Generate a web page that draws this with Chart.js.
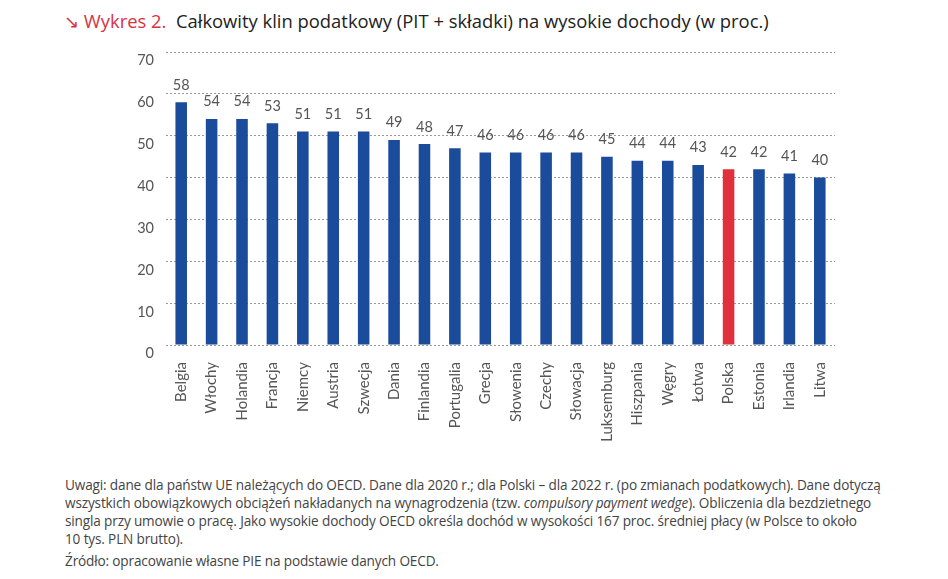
<!DOCTYPE html>
<html>
<head>
<meta charset="utf-8">
<script src="https://cdn.jsdelivr.net/npm/chart.js@4"></script>
<style>
  body { margin: 0; background: #fff; width: 948px; height: 579px; overflow: hidden; position: relative; font-family: "Open Sans", sans-serif; }
  #title { position: absolute; left: 64px; top: 8px; font-size: 18.4px; color: #222; white-space: nowrap; }
  #title .red { color: #d8323f; }
  #wrap { position: absolute; left: 0; top: 0; width: 948px; height: 460px; }
  #notes { position: absolute; left: 65px; top: 476px; font-family: "Open Sans", sans-serif; font-size: 13.6px; letter-spacing: -0.15px; line-height: 18px; color: #444; white-space: nowrap; }
  #notes p { margin: 0 0 4px 0; }
</style>
</head>
<body>
<div id="title"><span class="red">&#8600; Wykres 2.</span>&nbsp; Całkowity klin podatkowy (PIT + składki) na wysokie dochody (w proc.)</div>
<div id="wrap"><canvas id="myChart"></canvas></div>
<div id="notes">
<p>Uwagi: dane dla państw UE należących do OECD. Dane dla 2020 r.; dla Polski – dla 2022 r. (po zmianach podatkowych). Dane dotyczą<br
>wszystkich obowiązkowych obciążeń nakładanych na wynagrodzenia (tzw. <i>compulsory payment wedge</i>). Obliczenia dla bezdzietnego<br
>singla przy umowie o pracę. Jako wysokie dochody OECD określa dochód w wysokości 167 proc. średniej płacy (w Polsce to około<br
>10 tys. PLN brutto).</p>
<p>Źródło: opracowanie własne PIE na podstawie danych OECD.</p>
</div>
<script>
const countries = ['Belgia', 'Włochy', 'Holandia', 'Francja', 'Niemcy', 'Austria', 'Szwecja', 'Dania',
    'Finlandia', 'Portugalia', 'Grecja', 'Słowenia', 'Czechy', 'Słowacja', 'Luksemburg', 'Hiszpania',
    'Węgry', 'Łotwa', 'Polska', 'Estonia', 'Irlandia', 'Litwa'];
const wedge = [58, 54, 54, 53, 51, 51, 51, 49, 48, 47, 46, 46, 46, 46, 45, 44, 44, 43, 42, 42, 41, 40];
const yTicks = [0, 10, 20, 30, 40, 50, 60, 70];

const blue = '#1b4b9b';
const red = '#e0303d';
let colors = countries.map(c => c === 'Polska' ? red : blue);

// napisy z wartosciami nad slupkami
const valueLabels = {
    id: 'valueLabels',
    afterDatasetsDraw(chart) {
        const ctx = chart.ctx;
        const meta = chart.getDatasetMeta(0);
        ctx.save();
        ctx.font = '14.5px Lato, sans-serif';
        ctx.fillStyle = '#555';
        ctx.textAlign = 'center';
        ctx.textBaseline = 'bottom';
        meta.data.forEach((bar, i) => {
            ctx.fillText(wedge[i], bar.x, bar.y - 10);
        });
        ctx.restore();
    }
};

let ctx = document.getElementById('myChart').getContext('2d');
let chart = new Chart(ctx, {
    type: 'bar',
    data: {
        labels: countries,
        datasets: [{
            data: wedge,
            backgroundColor: colors,
            barPercentage: 0.38,
            categoryPercentage: 1
        }]
    },
    options: {
        responsive: true,
        maintainAspectRatio: false,
        animation: false,
        layout: { padding: { left: 111, right: 113, top: 52, bottom: 0 } },
        plugins: {
            legend: { display: false },
            tooltip: { enabled: false }
        },
        scales: {
            x: {
                grid: { display: false },
                border: { display: false },
                afterFit(scale) { scale.height = 115; },
                ticks: {
                    maxRotation: 90,
                    minRotation: 90,
                    padding: 9,
                    color: '#555',
                    font: { family: 'Lato, sans-serif', size: 15 }
                }
            },
            y: {
                min: 0,
                max: 70,
                afterBuildTicks(scale) { scale.ticks = yTicks.map(v => ({ value: v })); },
                afterFit(scale) { scale.width = 55; },
                grid: { color: '#9a9a9a', lineWidth: 1, drawTicks: false },
                border: { display: false, dash: [2, 2] },
                ticks: {
                    padding: 12,
                    color: '#555',
                    font: { family: 'Lato, sans-serif', size: 14.5 },
                    // pusty pierwszy wiersz przesuwa napis pod linie siatki
                    callback: v => ['', String(v)]
                }
            }
        }
    },
    plugins: [valueLabels]
});
</script>
</body>
</html>
